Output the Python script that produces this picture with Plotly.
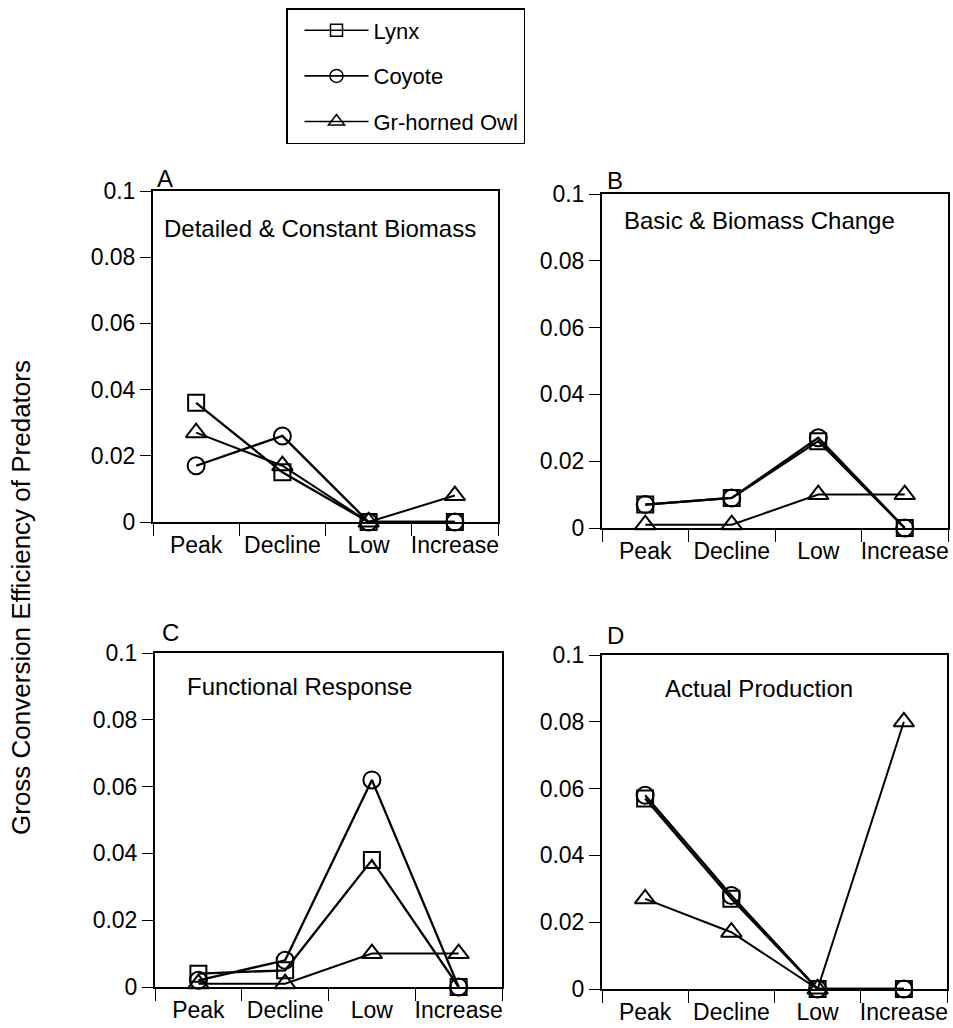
import plotly.graph_objects as go

W, H = 953, 1028

categories = ["Peak", "Decline", "Low", "Increase"]
species = ["Lynx", "Coyote", "Gr-horned Owl"]
panel_letters = ["A", "B", "C", "D"]
panel_titles = ["Detailed & Constant Biomass", "Basic & Biomass Change",
                "Functional Response", "Actual Production"]
y_axis_title = "Gross Conversion Efficiency of Predators"

lynx_A = [0.036, 0.015, 0.0, 0.0]
coyote_A = [0.017, 0.026, 0.0, 0.0]
owl_A = [0.027, 0.017, 0.0, 0.008]

lynx_B = [0.007, 0.009, 0.026, 0.0]
coyote_B = [0.007, 0.009, 0.027, 0.0]
owl_B = [0.001, 0.001, 0.010, 0.010]

lynx_C = [0.004, 0.005, 0.038, 0.0]
coyote_C = [0.002, 0.008, 0.062, 0.0]
owl_C = [0.001, 0.001, 0.010, 0.010]

lynx_D = [0.057, 0.027, 0.0, 0.0]
coyote_D = [0.058, 0.028, 0.0, 0.0]
owl_D = [0.027, 0.017, 0.0, 0.080]

y_tick_vals = [0, 0.02, 0.04, 0.06, 0.08, 0.1]
y_tick_text = ["0", "0.02", "0.04", "0.06", "0.08", "0.1"]

panels_data = [
    (lynx_A, coyote_A, owl_A),
    (lynx_B, coyote_B, owl_B),
    (lynx_C, coyote_C, owl_C),
    (lynx_D, coyote_D, owl_D),
]

FONT = "Liberation Sans, Arial, Helvetica, sans-serif"

def px_x(x):
    return x / W

def px_y(y):
    return 1 - y / H

# panel boxes in pixels: (left, right, top, bottom)
boxes = [
    (153, 498, 191, 522),
    (602, 948, 194, 528),
    (155, 502, 653, 987),
    (602, 947, 655, 989),
]
title_pos = [(162, 229), (622, 220), (185, 686), (663, 688)]
letter_pos = [(155, 178), (605, 180), (160, 632), (605, 635)]

symbols = ["square-open", "circle-open", "triangle-up-open"]
msizes = [16, 17, 18]
lwidths = [2.3, 2.3, 2.0]

fig = go.Figure()
layout = dict(
    width=W, height=H,
    margin=dict(l=0, r=0, t=0, b=0),
    paper_bgcolor="white", plot_bgcolor="white",
    font=dict(family=FONT, color="black", size=22),
    showlegend=True,
)

annotations = []
for i, (data, box) in enumerate(zip(panels_data, boxes)):
    n = i + 1
    xa = "x" if n == 1 else f"x{n}"
    ya = "y" if n == 1 else f"y{n}"
    for s, (name, vals) in enumerate(zip(species, data)):
        fig.add_trace(go.Scatter(
            x=categories, y=vals, xaxis=xa, yaxis=ya,
            mode="lines+markers", name=name, showlegend=False,
            line=dict(color="black", width=lwidths[s]),
            marker=dict(symbol=symbols[s], size=msizes[s], color="black",
                        line=dict(color="black", width=2)),
            cliponaxis=False,
        ))
    l, r, t, b = box
    layout[f"xaxis{'' if n == 1 else n}"] = dict(
        domain=[px_x(l), px_x(r)], anchor=ya, type="category",
        categoryorder="array", categoryarray=categories,
        range=[-0.5, 3.5], tickson="boundaries", ticks="outside",
        ticklen=12, tickwidth=1.3, tickcolor="black", tickangle=0,
        ticklabelstandoff=1,
        showline=True, linecolor="black", linewidth=2, mirror=True,
        showgrid=False, zeroline=False, automargin=False,
        tickfont=dict(size=23, family=FONT, color="black"),
    )
    layout[f"yaxis{'' if n == 1 else n}"] = dict(
        domain=[px_y(b), px_y(t)], anchor=xa, range=[0, 0.1],
        tickvals=y_tick_vals, ticktext=y_tick_text, ticks="outside",
        ticklen=11, tickwidth=1.3, tickcolor="black",
        showline=True, linecolor="black", linewidth=2, mirror=True,
        showgrid=False, zeroline=False, automargin=False,
        tickfont=dict(size=23, family=FONT, color="black"),
    )
    tx, ty = title_pos[i]
    annotations.append(dict(
        text=panel_titles[i], xref="paper", yref="paper",
        x=px_x(tx), y=px_y(ty), xanchor="left", yanchor="middle",
        showarrow=False, font=dict(size=24, family=FONT, color="black"),
    ))
    lx, ly = letter_pos[i]
    annotations.append(dict(
        text=panel_letters[i], xref="paper", yref="paper",
        x=px_x(lx), y=px_y(ly), xanchor="left", yanchor="middle",
        showarrow=False, font=dict(size=24, family=FONT, color="black"),
    ))

annotations.append(dict(
    text=y_axis_title, xref="paper", yref="paper",
    x=px_x(21), y=px_y(598), xanchor="center", yanchor="middle",
    textangle=-90, showarrow=False,
    font=dict(size=26, family=FONT, color="black"),
))

# legend-only traces (smaller markers, as in the key)
leg_sizes = [12, 13, 14]
for s, name in enumerate(species):
    fig.add_trace(go.Scatter(
        x=[None], y=[None], mode="lines+markers", name=name,
        legendgroup=name, showlegend=True,
        line=dict(color="black", width=1.6),
        marker=dict(symbol=symbols[s], size=leg_sizes[s], color="black",
                    line=dict(color="black", width=1.5)),
    ))

layout["legend"] = dict(
    x=px_x(286), y=px_y(8), xanchor="left", yanchor="top",
    bordercolor="black", borderwidth=1.5, bgcolor="white",
    font=dict(size=22, family=FONT, color="black"),
    itemwidth=64, indentation=12, tracegroupgap=14, itemclick=False,
)
layout["annotations"] = annotations
fig.update_layout(**layout)

fig.write_html("out.html")
